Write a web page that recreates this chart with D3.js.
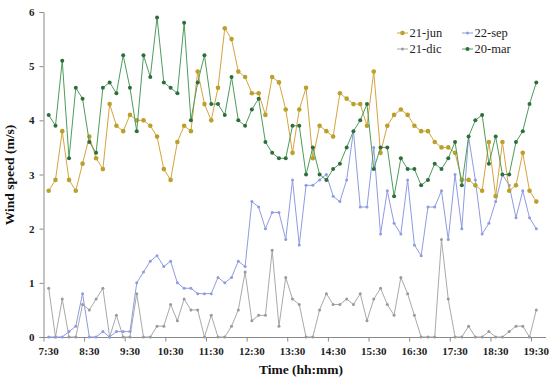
<!DOCTYPE html>
<html><head><meta charset="utf-8">
<script src="https://cdn.jsdelivr.net/npm/d3@7"></script>
<style>body{margin:0;background:#fff}svg{display:block}</style>
</head><body><svg id="c" width="550" height="380"></svg>
<script>
const tickLabels = ["7:30","8:30","9:30","10:30","11:30","12:30","13:30","14:30","15:30","16:30","17:30","18:30","19:30"];
const yTicks = [0,1,2,3,4,5,6];
const seriesNames = ["21-jun","22-sep","21-dic","20-mar"];
const jun = [2.7,2.9,3.8,2.9,2.7,3.2,3.7,3.3,3.1,4.3, 3.9,3.8,4.1,4.0,4.0,3.9,3.7,3.1,2.9,3.6, 3.9,3.8,4.9,4.3,4.0,4.6,5.7,5.5,4.9,4.8, 4.5,4.5,4.1,4.8,4.7,4.2,3.4,4.2,4.6,3.3, 3.9,3.8,3.7,4.5,4.4,4.3,4.3,3.9,4.9,3.4, 3.9,4.1,4.2,4.1,3.9,3.8,3.8,3.6,3.5,3.5, 3.4,2.9,2.9,2.8,2.7,3.6,2.6,3.6,2.7,2.8, 3.4,2.7,2.5];
const sep = [0,0,0,0.1,0.2,0.8,0,0,0.1,0, 0.1,0.1,0.1,1.0,1.2,1.4,1.5,1.3,1.4,1.0, 0.9,0.9,0.8,0.8,0.8,1.1,1.0,1.1,1.4,1.3, 2.5,2.4,2.0,2.3,2.3,1.8,2.9,1.7,2.8,2.8, 2.9,3.0,2.6,2.5,2.9,3.8,2.4,2.4,3.5,1.9, 2.7,2.1,1.9,2.9,1.7,1.5,2.4,2.4,2.7,1.8, 3.0,2.0,3.7,2.9,1.9,2.1,2.5,3.0,2.8,2.2, 2.7,2.2,2.0];
const dic = [0.9,0,0.7,0,0,0.6,0.5,0.7,0.9,0, 0.4,0,0,0.8,0,0,0.2,0.2,0.6,0.3, 0.7,0.5,0.5,0,0.4,0,0,0.2,0.5,1.2, 0.3,0.4,0.4,1.6,0.2,1.1,0.7,0.6,0,0, 0.5,0.8,0.6,0.6,0.7,0.6,0.8,0.3,0.7,0.9, 0.6,0.4,1.1,0.8,0.4,0,0,0,1.8,0.7, 0,0,0.2,0,0,0.1,0,0,0.1,0.2, 0.2,0,0.5];
const mar = [4.1,3.9,5.1,3.3,4.6,4.4,3.6,3.4,4.6,4.7, 4.5,5.2,4.6,3.8,5.2,4.8,5.9,4.7,4.6,4.5, 5.8,4.0,4.7,5.2,4.3,4.3,4.1,4.8,4.0,3.9, 4.2,4.4,3.6,3.4,3.3,3.3,3.9,3.9,3.0,3.5, 3.0,2.9,3.1,3.2,3.5,3.8,4.0,4.3,3.1,3.5, 3.5,2.6,3.3,3.1,3.1,2.8,2.9,3.2,3.1,3.3, 3.6,2.8,3.7,4.0,4.1,3.2,3.7,3.0,3.0,3.6, 3.8,4.3,4.7];

const svg = d3.select("#c");
const serif = "'Liberation Serif','DejaVu Serif',serif";
const n = jun.length;
const x = d3.scaleLinear().domain([0, n-1]).range([48.7, 536.3]);
const y = d3.scaleLinear().domain([0, 6]).range([337, 12]);
const axisColor = "#8a8a8a";

// Y axis
const ya = svg.append("g").attr("transform","translate(43.5,0)")
  .call(d3.axisLeft(y).tickValues(yTicks).tickSize(4).tickPadding(5).tickFormat(d3.format("d")));
ya.select(".domain").attr("stroke",axisColor);
ya.selectAll(".tick line").attr("stroke",axisColor);
ya.selectAll("text").attr("font-family",serif).attr("font-weight","bold").attr("font-size",11).attr("fill","#222");

// X axis
const xa = svg.append("g").attr("transform","translate(0,337.5)");
xa.append("line").attr("x1",43.5).attr("x2",546).attr("stroke",axisColor);
const tickIdx = tickLabels.map((d,i)=>i*6);
xa.selectAll(".tk").data(tickIdx).join("line")
  .attr("x1",d=>x(d-0.7)).attr("x2",d=>x(d-0.7)).attr("y1",0).attr("y2",4).attr("stroke",axisColor);
xa.selectAll(".lb").data(tickLabels).join("text")
  .attr("x",(d,i)=>x(i*6)).attr("y",17).attr("text-anchor","middle")
  .attr("font-family",serif).attr("font-weight","bold").attr("font-size",11).attr("fill","#222").text(d=>d);

// Titles
svg.append("text").attr("transform","translate(14,175) rotate(-90)").attr("text-anchor","middle")
  .attr("font-family",serif).attr("font-weight","bold").attr("font-size",13.5).attr("fill","#111").text("Wind speed (m/s)");
svg.append("text").attr("x",301).attr("y",374).attr("text-anchor","middle")
  .attr("font-family",serif).attr("font-weight","bold").attr("font-size",13.5).attr("fill","#111").text("Time (hh:mm)");

const specs = [
  {name:seriesNames[0], data:jun, line:"#D6A43E", mark:"#B9A12C", r:2.3},
  {name:seriesNames[1], data:sep, line:"#8E9CE2", mark:"#8E9CE2", r:1.5},
  {name:seriesNames[2], data:dic, line:"#A9A9A9", mark:"#9a9a9a", r:1.5},
  {name:seriesNames[3], data:mar, line:"#4E9C5C", mark:"#2F6E3C", r:2}
];
const line = d3.line().x((d,i)=>x(i)).y(d=>y(d));
const drawOrder = [2,1,0,3];
drawOrder.forEach(k=>{
  const s = specs[k];
  const g = svg.append("g");
  g.append("path").datum(s.data).attr("d",line).attr("fill","none").attr("stroke",s.line).attr("stroke-width",1);
  g.selectAll("circle").data(s.data).join("circle").attr("cx",(d,i)=>x(i)).attr("cy",d=>y(d)).attr("r",s.r).attr("fill",s.mark);
});

// Legend
const legPos = [[397,33],[462,33],[397,49],[462,49]];
specs.forEach((s,k)=>{
  const [lx,ly] = legPos[k];
  const g = svg.append("g");
  g.append("line").attr("x1",lx).attr("x2",lx+11).attr("y1",ly).attr("y2",ly).attr("stroke",s.line).attr("stroke-width",1);
  g.append("circle").attr("cx",lx+5.5).attr("cy",ly).attr("r",s.r).attr("fill",s.mark);
  g.append("text").attr("x",lx+12.5).attr("y",ly+4).attr("font-family",serif).attr("font-size",12.5).attr("fill","#222").text(s.name);
});
</script></body></html>
